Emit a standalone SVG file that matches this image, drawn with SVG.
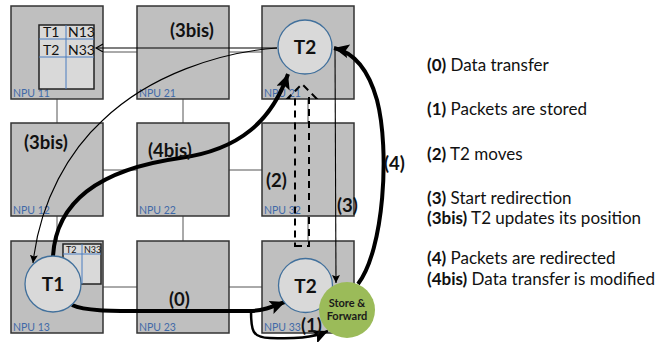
<svg xmlns="http://www.w3.org/2000/svg" width="660" height="342" viewBox="0 0 660 342">
<style>
.box{fill:#bfbfbf;stroke:#333;stroke-width:1.5}
.npu{font-family:Lato,"Liberation Sans",sans-serif;font-size:10.5px;fill:#3f6aa8}
.link{stroke:#555;stroke-width:1;fill:none}
.tbl{fill:#d9d9d9;stroke:#222;stroke-width:1.5}
.tl{stroke:#4a7cc0;stroke-width:1}
.tt{font-family:Lato,"Liberation Sans",sans-serif;fill:#111}
.node{fill:#d9d9d9;stroke:#41709c;stroke-width:1.3}
.nt{font-family:Lato,"Liberation Sans",sans-serif;font-weight:bold;font-size:19px;fill:#111;text-anchor:middle}
.lbl{font-family:Lato,"Liberation Sans",sans-serif;font-weight:bold;font-size:18.5px;fill:#111}
.leg{font-family:Lato,"Liberation Sans",sans-serif;font-size:17px;fill:#111}
.thick{fill:none;stroke:#000;stroke-width:4}
.thin{fill:none;stroke:#000;stroke-width:1.1}
</style>
<defs>
<marker id="ah" markerUnits="userSpaceOnUse" markerWidth="18" markerHeight="16" refX="15" refY="7" orient="auto">
<path d="M0,0 L15,7 L0,14 L3,7 z" fill="#000"/>
</marker>
<marker id="as" markerUnits="userSpaceOnUse" markerWidth="10" markerHeight="8" refX="8" refY="4" orient="auto">
<path d="M0,0 L8,4 L0,8 L1.5,4 z" fill="#000"/>
</marker>
<marker id="ao" markerUnits="userSpaceOnUse" markerWidth="10" markerHeight="10" refX="7" refY="4" orient="auto">
<path d="M0,0 L7,4 L0,8" fill="none" stroke="#000" stroke-width="1.1"/>
</marker>
</defs>

<g id="links">
<line class="link" x1="103" y1="52" x2="137" y2="52"/>
<line class="link" x1="229" y1="52" x2="262" y2="52"/>
<line class="link" x1="103" y1="170" x2="137" y2="170"/>
<line class="link" x1="229" y1="170" x2="262" y2="170"/>
<line class="link" x1="103" y1="287" x2="137" y2="287"/>
<line class="link" x1="229" y1="287" x2="262" y2="287"/>
<line class="link" x1="57" y1="99" x2="57" y2="123"/>
<line class="link" x1="183" y1="99" x2="183" y2="123"/>
<line class="link" x1="308" y1="99" x2="308" y2="123"/>
<line class="link" x1="57" y1="216" x2="57" y2="241"/>
<line class="link" x1="183" y1="216" x2="183" y2="241"/>
<line class="link" x1="308" y1="216" x2="308" y2="241"/>
</g>

<g id="npu11"><rect class="box" x="11" y="6" width="92" height="93"/><text class="npu" x="13" y="97">NPU 11</text>
<rect class="tbl" x="39" y="25" width="55" height="64"/>
<line class="tl" x1="66" y1="25" x2="66" y2="89"/><line class="tl" x1="39" y1="39" x2="94" y2="39"/><line class="tl" x1="39" y1="57" x2="94" y2="57"/>
<text class="tt" x="43" y="36.5" font-size="14">T1</text><text class="tt" x="68" y="36.5" font-size="14">N13</text>
<text class="tt" x="43" y="54.5" font-size="14">T2</text><text class="tt" x="68" y="54.5" font-size="14">N33</text>
</g>
<g id="npu21"><rect class="box" x="137" y="6" width="92" height="93"/><text class="npu" x="139" y="97">NPU 21</text></g>
<g id="npu31"><rect class="box" x="262" y="6" width="92" height="93"/><text class="npu" x="264" y="97">NPU 21</text></g>
<g id="npu12"><rect class="box" x="11" y="123" width="92" height="93"/><text class="npu" x="13" y="214">NPU 12</text></g>
<g id="npu22"><rect class="box" x="137" y="123" width="92" height="93"/><text class="npu" x="139" y="214">NPU 22</text></g>
<g id="npu32"><rect class="box" x="262" y="123" width="92" height="93"/><text class="npu" x="264" y="214">NPU 32</text></g>
<g id="npu13"><rect class="box" x="11" y="241" width="92" height="92"/><text class="npu" x="13" y="331">NPU 13</text>
<rect class="tbl" x="63" y="244" width="38" height="40"/>
<line class="tl" x1="82" y1="244" x2="82" y2="284"/><line class="tl" x1="63" y1="254" x2="101" y2="254"/>
<text class="tt" x="66" y="252.5" font-size="9">T2</text><text class="tt" x="84" y="252.5" font-size="9">N33</text>
</g>
<g id="npu23"><rect class="box" x="137" y="241" width="92" height="92"/><text class="npu" x="139" y="331">NPU 23</text></g>
<g id="npu33"><rect class="box" x="262" y="241" width="92" height="92"/><text class="npu" x="264" y="331">NPU 33</text></g>

<g id="connectors">
<line class="thin" x1="277" y1="48" x2="96" y2="48" marker-end="url(#ao)"/>
<path class="thin" d="M277,48 C220,52 150,75 103,120 C70,150 40,200 33,263" marker-end="url(#as)"/>
<path class="thick" d="M53,256 C56,205 95,170 180,158 C240,150 272,120 288,74" marker-end="url(#ah)"/>
<path class="thick" d="M358,284 C384,250 390,150 377,100 C368,68 352,52 334,48" marker-end="url(#ah)"/>
<line class="thin" x1="335" y1="48" x2="336" y2="283" marker-end="url(#as)"/>
<polygon points="295,246 309,246 309,98 316,98 302,84 288,98 295,98" fill="none" stroke="#000" stroke-width="2" stroke-dasharray="7 5"/>
<path class="thick" d="M72,305 C85,311 110,311 140,311 L250,311 C262,311 272,307 285,302" marker-end="url(#ah)"/>
<path fill="none" stroke="#000" stroke-width="2.5" d="M251,311 C251,330 252,338 270,338 C295,339 312,338 328,331" marker-end="url(#ah)"/>
</g>

<g id="t2top"><circle class="node" cx="305" cy="47" r="27"/><text class="nt" x="305" y="54">T2</text></g>
<g id="t1"><circle class="node" cx="53" cy="284" r="28"/><text class="nt" x="53" y="291">T1</text></g>
<g id="t2bottom"><circle class="node" cx="305.5" cy="285.5" r="27"/><text class="nt" x="305.5" y="292.5">T2</text></g>
<g id="storefwd"><circle cx="347" cy="310" r="28" fill="#9bbb59"/>
<text x="347" y="307" font-family="Lato,'Liberation Sans',sans-serif" font-weight="bold" font-size="11" fill="#1a1a1a" text-anchor="middle">Store &amp;</text>
<text x="347" y="320" font-family="Lato,'Liberation Sans',sans-serif" font-weight="bold" font-size="11" fill="#1a1a1a" text-anchor="middle">Forward</text>
</g>

<g id="labels">
<text class="lbl" x="170" y="37">(3bis)</text>
<text class="lbl" x="24" y="149">(3bis)</text>
<text class="lbl" x="148" y="157">(4bis)</text>
<text class="lbl" x="266" y="187">(2)</text>
<text class="lbl" x="337" y="212" font-size="16">(3)</text>
<text class="lbl" x="384" y="170" font-size="17">(4)</text>
<text class="lbl" x="169" y="306">(0)</text>
<text class="lbl" x="301" y="332" font-size="17">(1)</text>
</g>

<g id="legend" class="leg">
<text x="427" y="71"><tspan font-weight="bold">(0)</tspan> Data transfer</text>
<text x="427" y="115"><tspan font-weight="bold">(1)</tspan> Packets are stored</text>
<text x="427" y="160"><tspan font-weight="bold">(2)</tspan> T2 moves</text>
<text x="427" y="204"><tspan font-weight="bold">(3)</tspan> Start redirection</text>
<text x="427" y="224"><tspan font-weight="bold">(3bis)</tspan> T2 updates its position</text>
<text x="427" y="264"><tspan font-weight="bold">(4)</tspan> Packets are redirected</text>
<text x="427" y="285"><tspan font-weight="bold">(4bis)</tspan> Data transfer is modified</text>
</g>
</svg>
